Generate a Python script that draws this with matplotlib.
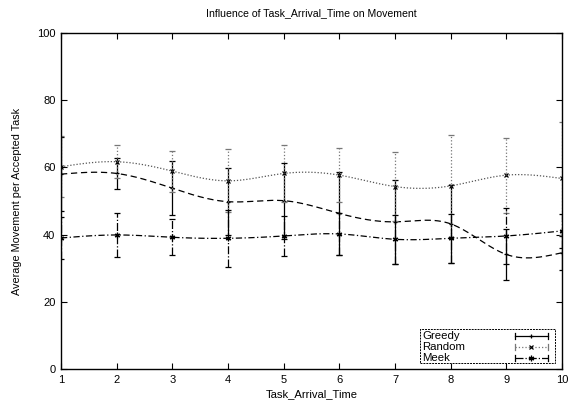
import numpy as np
import matplotlib
matplotlib.use("Agg")
from matplotlib import pyplot as plt
from matplotlib.patches import Rectangle

plt.rcParams['font.family'] = ['Liberation Sans', 'DejaVu Sans']
plt.rcParams['font.size'] = 8

arrival_time = [1, 2, 3, 4, 5, 6, 7, 8, 9, 10]

greedy = [58.0, 58.2, 53.8, 49.8, 50.1, 46.3, 43.8, 43.2, 34.1, 34.6]
greedy_err = [11.0, 4.6, 8.0, 10.0, 11.3, 12.4, 12.4, 11.6, 7.7, 5.0]

random_ = [60.2, 61.7, 58.9, 56.0, 58.2, 57.7, 54.3, 54.5, 57.7, 56.7]
random_err = [9.0, 5.0, 6.1, 9.4, 8.5, 8.0, 10.2, 15.1, 11.2, 16.8]

meek = [39.0, 39.9, 39.2, 38.9, 39.6, 40.2, 38.6, 38.9, 39.6, 41.1]
meek_err = [6.2, 6.6, 5.4, 8.5, 6.0, 6.3, 7.2, 7.3, 8.2, 5.0]


def natural_spline(x, y, n=300):
    # natural cubic spline, like gnuplot's "smooth csplines"
    x = np.asarray(x, float)
    y = np.asarray(y, float)
    k = len(x)
    h = np.diff(x)
    A = np.zeros((k, k))
    b = np.zeros(k)
    A[0, 0] = A[-1, -1] = 1
    for i in range(1, k - 1):
        A[i, i - 1] = h[i - 1]
        A[i, i] = 2 * (h[i - 1] + h[i])
        A[i, i + 1] = h[i]
        b[i] = 6 * ((y[i + 1] - y[i]) / h[i] - (y[i] - y[i - 1]) / h[i - 1])
    m = np.linalg.solve(A, b)
    xs = np.linspace(x[0], x[-1], n)
    idx = np.clip(np.searchsorted(x, xs) - 1, 0, k - 2)
    t = xs - x[idx]
    hi = h[idx]
    a = (m[idx + 1] - m[idx]) / (6 * hi)
    bb = m[idx] / 2
    c = (y[idx + 1] - y[idx]) / hi - hi * (2 * m[idx] + m[idx + 1]) / 6
    return xs, y[idx] + c * t + bb * t ** 2 + a * t ** 3


fig = plt.figure(figsize=(5.69, 4.04), dpi=100)
ax = fig.add_axes([0.1072, 0.0866, 0.8805, 0.8317])

series = [
    ("Greedy", greedy, greedy_err, "black", "-", "+", (0, (5, 3)), 3.5),
    ("Random", random_, random_err, "#777777", ":", "x", (0, (1, 1.5)), 3.5),
    ("Meek", meek, meek_err, "black", "-.", (6, 2, 0), (0, (5, 2, 1, 2)), 4),
]

# gnuplot-like key box, drawn by hand so text is left aligned and samples right
key_rows = [0.098, 0.065, 0.033]
ax.add_patch(Rectangle((0.7166, 0.018), 0.2694, 0.101, transform=ax.transAxes,
                       fill=True, facecolor="white", edgecolor="black",
                       linestyle=(0, (2, 1)), linewidth=0.7, zorder=5))

for (name, vals, errs, col, ls, mk, smooth_ls, ms), ky in zip(series, key_rows):
    eb = ax.errorbar(arrival_time, vals, yerr=errs, fmt="none",
                     ecolor=col, elinewidth=0.9, capsize=2.5, capthick=0.9)
    eb[2][0].set_linestyle(ls)
    ax.plot(arrival_time, vals, linestyle="none", marker=mk, color="black",
            markersize=ms, markeredgewidth=0.9)
    xs, ys = natural_spline(arrival_time, vals)
    ax.plot(xs, ys, color="black" if col == "black" else "#555555",
            linestyle=smooth_ls, linewidth=0.9)

    # key entry
    ax.text(0.7206, ky, name, transform=ax.transAxes, ha="left",
            va="center", fontsize=8.2, zorder=6)
    ax.plot([0.906, 0.972], [ky, ky], transform=ax.transAxes, color=col,
            linestyle=ls, linewidth=0.9, zorder=6)
    for ex in (0.906, 0.972):
        ax.plot([ex, ex], [ky - 0.008, ky + 0.008], transform=ax.transAxes,
                color=col, linewidth=0.9, zorder=6)
    ax.plot([0.939], [ky], transform=ax.transAxes, marker=mk, color="black",
            markersize=ms, markeredgewidth=0.9, linestyle="none", zorder=6)

ax.set_xlim(1, 10)
ax.set_ylim(0, 100)
ax.set_xticks(arrival_time)
ax.set_yticks([0, 20, 40, 60, 80, 100])
ax.tick_params(direction="in", top=True, right=True, length=4, width=0.8,
               labelsize=8, pad=4)
for s in ax.spines.values():
    s.set_linewidth(1.0)

ax.set_title("Influence of Task_Arrival_Time on Movement", fontsize=7.6, pad=12)
ax.set_xlabel("Task_Arrival_Time", fontsize=8.1, labelpad=3)
ax.set_ylabel("Average Movement per Accepted Task", fontsize=7.8, labelpad=11)

fig.savefig("out.png", dpi=100)
